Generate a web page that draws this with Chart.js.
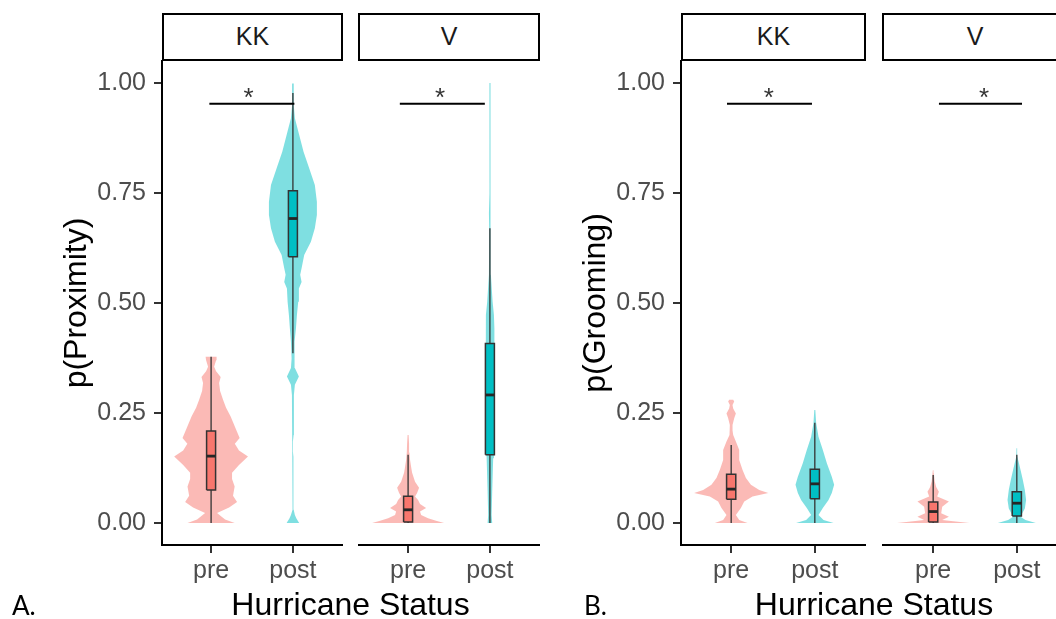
<!DOCTYPE html>
<html><head><meta charset="utf-8">
<script src="https://cdn.jsdelivr.net/npm/chart.js@4/dist/chart.umd.min.js"></script>
<style>
html,body{margin:0;padding:0;background:#fff;width:1056px;height:619px;overflow:hidden;position:relative;font-family:"Liberation Sans",Arial,sans-serif}
.cv{position:absolute;top:0;height:619px}
.strip{position:absolute;top:13px;height:48px;box-sizing:border-box;border:2.5px solid #000;font-size:25px;color:#1a1a1a;text-align:center;line-height:43px;background:#fff}
.xt{position:absolute;top:588px;font-size:32px;line-height:32px;color:#000;white-space:nowrap;transform:translateX(-50%)}
.tag{position:absolute;top:591px;font-family:Lato,"Noto Sans",sans-serif;font-size:26px;line-height:28px;color:#000}
</style></head><body>
<div class="cv" style="left:0;width:345px"><canvas id="aKK"></canvas></div>
<div class="cv" style="left:345px;width:197px"><canvas id="aV"></canvas></div>
<div class="cv" style="left:519px;width:349px"><canvas id="bKK"></canvas></div>
<div class="cv" style="left:869px;width:201px"><canvas id="bV"></canvas></div>
<div id="strips"></div>
<div id="texts"></div>
<script>
// ---------- data ----------
const categories = ['pre', 'post'];
const facets = ['KK', 'V'];
const yTicks = [0, 0.25, 0.5, 0.75, 1];
const yTickLabels = ['0.00', '0.25', '0.50', '0.75', '1.00'];
const panelYTitles = ['p(Proximity)', 'p(Grooming)'];
const xTitle = 'Hurricane Status';
const panelTags = ['A.', 'B.'];
const sigLabel = '*';
const sigY = 0.953;

// violin densities: y levels and half-widths (in category units)
const proxKKPreLevels = [0, 0.008, 0.023, 0.035, 0.048, 0.062, 0.083, 0.100, 0.114, 0.132, 0.151, 0.165, 0.180, 0.193, 0.215, 0.242, 0.262, 0.280, 0.300, 0.318, 0.332, 0.345, 0.355, 0.370, 0.378];
const proxKKPreWidths = [0.288, 0.171, 0.073, 0.22, 0.317, 0.268, 0.288, 0.256, 0.256, 0.341, 0.451, 0.341, 0.29, 0.349, 0.3, 0.239, 0.183, 0.146, 0.11, 0.098, 0.117, 0.061, 0.037, 0.061, 0.067];
const proxKKPostLevels = [0, 0.010, 0.018, 0.030, 0.100, 0.150, 0.162, 0.185, 0.200, 0.291, 0.314, 0.333, 0.352, 0.374, 0.412, 0.442, 0.473, 0.503, 0.533, 0.548, 0.564, 0.579, 0.609, 0.639, 0.670, 0.700, 0.730, 0.768, 0.806, 0.844, 0.882, 0.920, 0.950, 0.999];
const proxKKPostWidths = [0.077, 0.043, 0.024, 0.010, 0.007, 0.006, 0, 0, 0.009, 0.012, 0.024, 0.073, 0.024, 0.016, 0.024, 0.037, 0.049, 0.065, 0.073, 0.106, 0.089, 0.106, 0.138, 0.22, 0.268, 0.293, 0.293, 0.268, 0.199, 0.13, 0.077, 0.024, 0.010, 0.010];
const proxVPreLevels = [0, 0.005, 0.011, 0.018, 0.026, 0.034, 0.043, 0.052, 0.060, 0.068, 0.080, 0.094, 0.114, 0.124, 0.143, 0.160, 0.180, 0.200];
const proxVPreWidths = [0.439, 0.341, 0.244, 0.159, 0.146, 0.22, 0.146, 0.122, 0.085, 0.11, 0.134, 0.085, 0.049, 0.04, 0.024, 0.016, 0.012, 0.006];
const proxVPostLevels = [0, 0.018, 0.071, 0.147, 0.200, 0.250, 0.300, 0.350, 0.400, 0.442, 0.473, 0.503, 0.564, 0.620, 0.670, 0.704, 0.750, 0.900, 0.980, 1.000];
const proxVPostWidths = [0.028, 0.021, 0.028, 0.04, 0.049, 0.052, 0.052, 0.055, 0.055, 0.057, 0.049, 0.033, 0.012, 0.01, 0.009, 0.012, 0.005, 0.004, 0.006, 0.006];
const groomKKPreLevels = [0, 0.007, 0.018, 0.034, 0.049, 0.060, 0.068, 0.075, 0.087, 0.102, 0.121, 0.143, 0.166, 0.185, 0.200, 0.211, 0.223, 0.238, 0.249, 0.260, 0.268, 0.276, 0.280];
const groomKKPreWidths = [0.195, 0.096, 0.056, 0.116, 0.156, 0.255, 0.443, 0.335, 0.236, 0.176, 0.135, 0.096, 0.096, 0.056, 0.024, 0.016, 0.016, 0.036, 0.056, 0.024, 0.016, 0.036, 0.024];
const groomKKPostLevels = [0, 0.007, 0.018, 0.034, 0.052, 0.068, 0.087, 0.105, 0.136, 0.166, 0.196, 0.227, 0.257];
const groomKKPostWidths = [0.224, 0.104, 0.044, 0.096, 0.164, 0.203, 0.231, 0.203, 0.144, 0.096, 0.044, 0.016, 0.006];
const groomVPreLevels = [0, 0.004, 0.007, 0.014, 0.022, 0.037, 0.049, 0.060, 0.071, 0.082, 0.095, 0.113, 0.120];
const groomVPreWidths = [0.431, 0.239, 0.108, 0.188, 0.096, 0.108, 0.188, 0.048, 0.068, 0.036, 0.018, 0.008, 0.004];
const groomVPostLevels = [0, 0.007, 0.014, 0.033, 0.052, 0.075, 0.098, 0.121, 0.151, 0.170];
const groomVPostWidths = [0.227, 0.104, 0.044, 0.096, 0.111, 0.096, 0.072, 0.044, 0.006, 0.004];

// box stats: [lower whisker, Q1, median, Q3, upper whisker]
const proxKKPreBox = [0, 0.075, 0.152, 0.209, 0.378];
const proxKKPostBox = [0.386, 0.605, 0.692, 0.755, 0.977];
const proxVPreBox = [0, 0.002, 0.030, 0.061, 0.155];
const proxVPostBox = [0, 0.155, 0.291, 0.408, 0.670];
const groomKKPreBox = [0, 0.054, 0.077, 0.111, 0.177];
const groomKKPostBox = [0, 0.055, 0.089, 0.122, 0.228];
const groomVPreBox = [0, 0.002, 0.026, 0.048, 0.109];
const groomVPostBox = [0, 0.016, 0.045, 0.071, 0.155];

// significance brackets: [from, to] on category axis, and asterisk position
const proxKKSig = [0.979, 2.018]; const proxKKStarX = 1.458;
const proxVSig = [0.899, 1.938]; const proxVStarX = 1.391;
const groomKKSig = [0.95, 1.966]; const groomKKStarX = 1.449;
const groomVSig = [1.069, 2.062]; const groomVStarX = 1.608;

// ---------- rendering ----------
const FONT = '"Liberation Sans", Arial, sans-serif';
Chart.defaults.font.family = FONT;
Chart.defaults.animation = false;
const groupFill = ['#F8766D', '#00BFC4'];
const groupViolin = ['rgba(248,118,109,0.5)', 'rgba(0,191,196,0.5)'];
const BOX_HW = 0.055;

function violinPoints(c, levels, widths) {
  const pts = [];
  for (let i = 0; i < levels.length; i++) pts.push({x: c + widths[i], y: levels[i]});
  for (let i = levels.length - 1; i >= 0; i--) pts.push({x: c - widths[i], y: levels[i]});
  return pts;
}
function boxPoints(c, s) {
  return [{x: c - BOX_HW, y: s[1]}, {x: c + BOX_HW, y: s[1]}, {x: c + BOX_HW, y: s[3]}, {x: c - BOX_HW, y: s[3]}, {x: c - BOX_HW, y: s[1]}];
}

const starPlugin = {
  id: 'sigStar',
  afterDatasetsDraw(chart, args, opts) {
    const {ctx, scales: {x, y}} = chart;
    ctx.save();
    ctx.font = '26px ' + FONT;
    ctx.fillStyle = '#333';
    ctx.textAlign = 'center';
    ctx.textBaseline = 'alphabetic';
    ctx.fillText(opts.label, x.getPixelForValue(opts.x), y.getPixelForValue(opts.y) + 2);
    ctx.restore();
  }
};

function makeChart(id, groups, sig, starX, showY, yTitle) {
  const datasets = [];
  groups.forEach((g, gi) => {
    const c = gi + 1;
    datasets.push({data: violinPoints(c, g.levels, g.widths), fill: 'shape', backgroundColor: groupViolin[gi], borderColor: 'rgba(0,0,0,0)', borderWidth: 0, pointRadius: 0, order: 10});
    datasets.push({data: [{x: c, y: g.box[0]}, {x: c, y: g.box[4]}], fill: false, borderColor: '#333', borderWidth: 1.3, pointRadius: 0, order: 8});
    datasets.push({data: boxPoints(c, g.box), fill: 'shape', backgroundColor: groupFill[gi], borderColor: '#333', borderWidth: 1.5, pointRadius: 0, order: 6});
    datasets.push({data: [{x: c - BOX_HW, y: g.box[2]}, {x: c + BOX_HW, y: g.box[2]}], fill: false, borderColor: '#262626', borderWidth: 2.8, pointRadius: 0, order: 4});
  });
  datasets.push({data: [{x: sig[0], y: sigY}, {x: sig[1], y: sigY}], fill: false, borderColor: '#000', borderWidth: 2, pointRadius: 0, order: 0});

  return new Chart(document.getElementById(id), {
    type: 'line',
    data: {datasets},
    plugins: [starPlugin],
    options: {
      indexAxis: 'y',
      responsive: true, maintainAspectRatio: false, devicePixelRatio: 1,
      events: [],
      layout: {padding: {left: showY ? 55 : 14, top: 61, right: 3, bottom: 34}},
      elements: {line: {tension: 0}},
      plugins: {legend: {display: false}, tooltip: {enabled: false}, sigStar: {x: starX, y: sigY, label: sigLabel}},
      scales: {
        x: {
          type: 'linear', min: 0.4, max: 2.6,
          afterBuildTicks: s => { s.ticks = categories.map((_, i) => ({value: i + 1})); },
          ticks: {callback: (v, i) => categories[i], color: '#4d4d4d', font: {size: 25}, padding: 3, maxRotation: 0, autoSkip: false},
          grid: {display: true, drawOnChartArea: false, drawTicks: true, tickLength: 8, color: '#333', lineWidth: 2},
          border: {display: true, color: '#000', width: 2},
          afterFit: s => { s.height = 40; }
        },
        y: {
          type: 'linear', min: -0.05, max: 1.05, display: showY,
          afterBuildTicks: s => { s.ticks = yTicks.map(v => ({value: v})); },
          ticks: {callback: (v, i) => yTickLabels[i], color: '#4d4d4d', font: {size: 25}, padding: 8, autoSkip: false},
          grid: {display: true, drawOnChartArea: false, drawTicks: true, tickLength: 8, color: '#333', lineWidth: 2},
          border: {display: true, color: '#000', width: 2},
          title: {display: !!yTitle, text: yTitle || '', color: '#000', font: {size: 32}, padding: {top: 3, bottom: 0}},
          afterFit: s => { s.width = showY ? 107 : 0; }
        }
      }
    }
  });
}

makeChart('aKK', [
  {levels: proxKKPreLevels, widths: proxKKPreWidths, box: proxKKPreBox},
  {levels: proxKKPostLevels, widths: proxKKPostWidths, box: proxKKPostBox}
], proxKKSig, proxKKStarX, true, panelYTitles[0]);
makeChart('aV', [
  {levels: proxVPreLevels, widths: proxVPreWidths, box: proxVPreBox},
  {levels: proxVPostLevels, widths: proxVPostWidths, box: proxVPostBox}
], proxVSig, proxVStarX, false, null);
makeChart('bKK', [
  {levels: groomKKPreLevels, widths: groomKKPreWidths, box: groomKKPreBox},
  {levels: groomKKPostLevels, widths: groomKKPostWidths, box: groomKKPostBox}
], groomKKSig, groomKKStarX, true, panelYTitles[1]);
makeChart('bV', [
  {levels: groomVPreLevels, widths: groomVPreWidths, box: groomVPreBox},
  {levels: groomVPostLevels, widths: groomVPostWidths, box: groomVPostBox}
], groomVSig, groomVStarX, false, null);

// strips, axis titles, panel tags (HTML text)
const stripBoxes = [[162, 181], [358, 182], [681, 185], [882, 186]];
const stripHost = document.getElementById('strips');
stripBoxes.forEach((b, i) => {
  const d = document.createElement('div');
  d.className = 'strip';
  d.style.left = b[0] + 'px'; d.style.width = b[1] + 'px';
  d.textContent = facets[i % 2];
  stripHost.appendChild(d);
});
const textHost = document.getElementById('texts');
[350.5, 874].forEach(cx => {
  const d = document.createElement('div');
  d.className = 'xt'; d.style.left = cx + 'px'; d.textContent = xTitle;
  textHost.appendChild(d);
});
[12, 584].forEach((x, i) => {
  const d = document.createElement('div');
  d.className = 'tag'; d.style.left = x + 'px'; d.textContent = panelTags[i];
  textHost.appendChild(d);
});
</script>
</body></html>
